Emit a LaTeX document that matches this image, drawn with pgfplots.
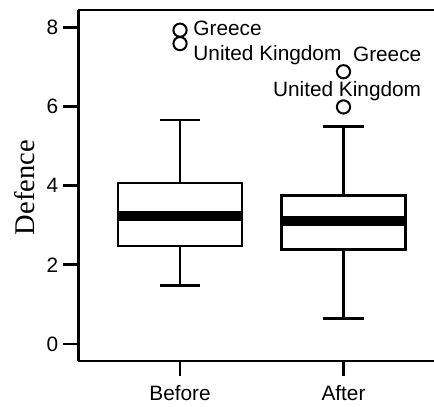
\documentclass[border=0pt]{standalone}
\usepackage{pgfplots}
\pgfplotsset{compat=1.18}
\usepgfplotslibrary{statistics}
\usepackage{fontspec}
\setmainfont{Liberation Sans}
\newfontfamily\serifab{Liberation Serif}
\begin{document}
\begin{tikzpicture}
\useasboundingbox (-39.25pt,-23pt) rectangle (177.75pt,180.5pt);
\begin{axis}[
  at={(0,0)}, anchor=south west,
  scale only axis,
  width=177.75pt, height=175.5pt,
  xmin=0.379, xmax=2.5535,
  ymin=-0.43, ymax=8.44,
  axis x line*=bottom, axis y line*=left,
  axis line style={line width=1.4pt},
  xtick={1,2}, xticklabels={Before,After},
  ytick={0,2,4,6,8},
  tick align=outside,
  major tick length=7.5pt,
  every tick/.style={black, line width=1.35pt},
  tick label style={font=\fontsize{10.4}{12}\selectfont},
  /pgf/number format/assume math mode=true,
  yticklabel style={inner sep=0pt, xshift=-2.5pt},
  xticklabel style={inner sep=0pt, yshift=-4.5pt},
  boxplot/draw direction=y,
  boxplot/box extend=0.758,
  boxplot/whisker extend=0.25,
  boxplot/every box/.style={line width=1.1pt, fill=white},
  boxplot/every whisker/.style={line width=1.3pt},
  boxplot/every median/.style={line width=5pt},
  clip=false,
  extra description/.code={
    \draw[line width=1.4pt] (rel axis cs:0,1) -- (rel axis cs:1.02,1);
  },
]
\addplot[black, boxplot prepared={draw position=1,
  lower whisker=1.48, lower quartile=2.47, median=3.24,
  upper quartile=4.06, upper whisker=5.66}] coordinates {};
\addplot[black, boxplot prepared={draw position=2,
  lower whisker=0.65, lower quartile=2.39, median=3.10,
  upper quartile=3.75, upper whisker=5.49}] coordinates {};
\addplot[only marks, mark=o, mark size=3.3pt, black, line width=1pt]
  coordinates {(1,7.93) (1,7.59) (2,6.88) (2,5.99)};
\node[anchor=base west, inner sep=0pt, font=\fontsize{10.4}{12}\selectfont] at (axis cs:1.0795,7.805) {Greece};
\node[anchor=base west, inner sep=0pt, font=\fontsize{10.4}{12}\selectfont] at (axis cs:1.0795,7.156) {United Kingdom};
\node[anchor=base west, inner sep=0pt, font=\fontsize{10.4}{12}\selectfont] at (axis cs:2.056,7.148) {Greece};
\node[anchor=base west, inner sep=0pt, font=\fontsize{10.4}{12}\selectfont] at (axis cs:1.567,6.246) {United Kingdom};
\node[rotate=90, anchor=base, inner sep=0pt, font=\serifab\fontsize{14.25}{16}\selectfont] at (rel axis cs:-0.1237,0.494) {Defence};
\end{axis}
\end{tikzpicture}
\end{document}
